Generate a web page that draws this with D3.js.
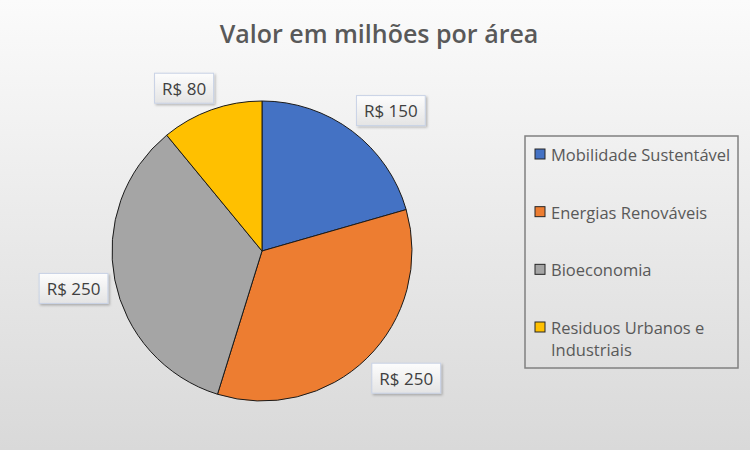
<!DOCTYPE html>
<html>
<head>
<meta charset="utf-8">
<script src="https://cdn.jsdelivr.net/npm/d3@7"></script>
<style>
  body { margin: 0; }
  svg { display: block; font-family: "Open Sans", "Noto Sans", sans-serif; }
</style>
</head>
<body>
<div id="chart"></div>
<script>
const categories = ["Mobilidade Sustentável", "Energias Renováveis", "Bioeconomia", "Residuos Urbanos e Industriais"];
const values = [150, 250, 250, 80];
const colors = ["#4472c4", "#ed7d31", "#a5a5a5", "#ffc000"];
const titleText = "Valor em milhões por área";

const W = 750, H = 450;
const cx = 262, cy = 251, radius = 150;

const svg = d3.select("#chart").append("svg")
    .attr("width", W)
    .attr("height", H);

const defs = svg.append("defs");
const bg = defs.append("linearGradient").attr("id", "bg")
    .attr("x1", 0).attr("y1", 0).attr("x2", 0).attr("y2", 1);
bg.append("stop").attr("offset", "0%").attr("stop-color", "#fbfbfb");
bg.append("stop").attr("offset", "100%").attr("stop-color", "#d9d9d9");

const lblGrad = defs.append("linearGradient").attr("id", "lbl")
    .attr("x1", 0).attr("y1", 0).attr("x2", 0).attr("y2", 1);
lblGrad.append("stop").attr("offset", "0%").attr("stop-color", "#fdfdfd");
lblGrad.append("stop").attr("offset", "100%").attr("stop-color", "#e4e4e4");

const shadow = defs.append("filter").attr("id", "shadow")
    .attr("x", "-20%").attr("y", "-20%").attr("width", "150%").attr("height", "150%");
shadow.append("feDropShadow").attr("dx", 1.5).attr("dy", 1.5)
    .attr("stdDeviation", 1.2).attr("flood-color", "#000").attr("flood-opacity", 0.25);

svg.append("rect").attr("width", W).attr("height", H).attr("fill", "url(#bg)");

// title
svg.append("text")
    .attr("x", 379).attr("y", 43)
    .attr("text-anchor", "middle")
    .attr("font-size", 25)
    .attr("font-weight", 600)
    .attr("fill", "#595959")
    .text(titleText);

// pie
const data = categories.map((c, i) => ({ name: c, value: values[i], color: colors[i] }));
const pie = d3.pie().value(d => d.value).sort(null);
const arcs = pie(data);
const arc = d3.arc().innerRadius(0).outerRadius(radius);

const g = svg.append("g").attr("transform", `translate(${cx},${cy})`);
g.selectAll("path")
    .data(arcs)
    .join("path")
    .attr("d", arc)
    .attr("fill", d => d.data.color)
    .attr("stroke", "#1a1a1a")
    .attr("stroke-width", 1);

// data labels (outside end, boxed) - box edge sits on a ring just outside the pie
const fmt = v => "R$ " + v;
const anchorR = 157;
const clamp = v => Math.max(-1, Math.min(1, v * 2.5));
const labels = g.selectAll("g.lbl")
    .data(arcs)
    .join("g")
    .attr("class", "lbl");

labels.each(function (d) {
    const sel = d3.select(this);
    const t = sel.append("text")
        .attr("font-size", 17)
        .attr("fill", "#404040")
        .attr("text-anchor", "middle")
        .attr("dominant-baseline", "central")
        .text(fmt(d.data.value));
    const bb = t.node().getBBox();
    const bw = bb.width + 15, bh = 30;
    const mid = (d.startAngle + d.endAngle) / 2;
    const sx = Math.sin(mid), sy = -Math.cos(mid);
    const x = anchorR * sx + clamp(sx) * bw / 2;
    const y = anchorR * sy + clamp(sy) * bh / 2;
    sel.attr("transform", `translate(${x},${y})`);
    sel.insert("rect", "text")
        .attr("x", -bw / 2).attr("y", -bh / 2)
        .attr("width", bw).attr("height", bh)
        .attr("fill", "url(#lbl)")
        .attr("stroke", "#c9d3e6")
        .attr("stroke-width", 1)
        .attr("filter", "url(#shadow)");
});

// legend
const legend = svg.append("g").attr("transform", "translate(525,136)");
legend.append("rect")
    .attr("width", 213).attr("height", 232)
    .attr("fill", "none")
    .attr("stroke", "#808080")
    .attr("stroke-width", 1.5);

const itemY = d3.scalePoint().domain(categories).range([18, 191]);
const items = legend.selectAll("g.item")
    .data(data)
    .join("g")
    .attr("class", "item")
    .attr("transform", d => `translate(10,${itemY(d.name)})`);

items.append("rect")
    .attr("x", 0).attr("y", -5)
    .attr("width", 10).attr("height", 10)
    .attr("fill", d => d.color)
    .attr("stroke", "#262626")
    .attr("stroke-width", 1);

items.append("text")
    .attr("x", 16)
    .attr("font-size", 16.5)
    .attr("fill", "#595959")
    .attr("dominant-baseline", "central")
    .each(function (d) {
        const t = d3.select(this);
        const words = d.name.split(" ");
        const maxW = 188;
        let line = [], lines = [];
        words.forEach(w => {
            t.text([...line, w].join(" "));
            if (t.node().getComputedTextLength() > maxW && line.length) {
                lines.push(line.join(" "));
                line = [w];
            } else line.push(w);
        });
        lines.push(line.join(" "));
        t.text(null);
        lines.forEach((l, i) => {
            t.append("tspan")
                .attr("x", 16)
                .attr("dy", i === 0 ? 0 : 22)
                .text(l);
        });
    });
</script>
</body>
</html>
